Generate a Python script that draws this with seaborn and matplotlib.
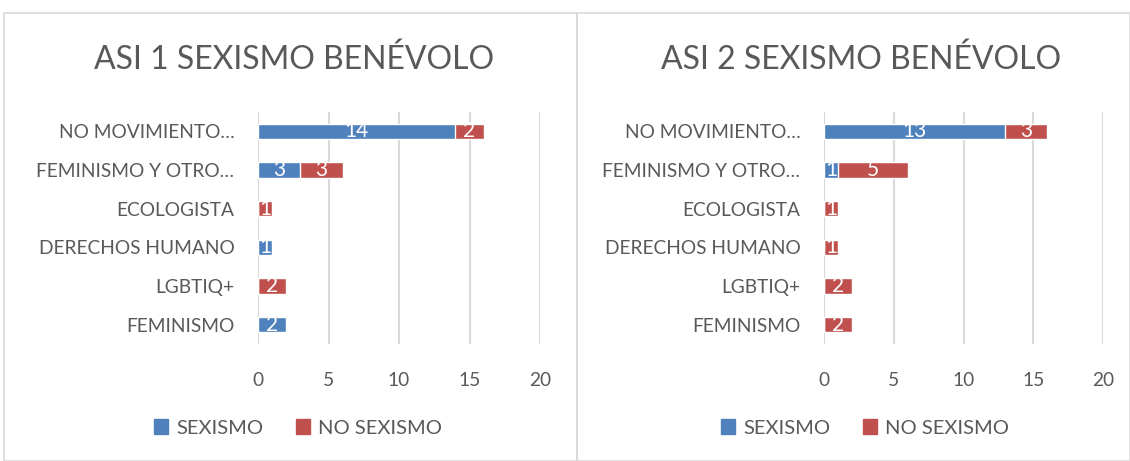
import matplotlib
matplotlib.use("Agg")
import matplotlib.pyplot as plt
import seaborn as sns
from matplotlib.patches import Rectangle

categories = ["NO MOVIMIENTO…", "FEMINISMO Y OTRO…", "ECOLOGISTA",
              "DERECHOS HUMANO", "LGBTIQ+", "FEMINISMO"]
asi1_sexismo = [14, 3, 0, 1, 0, 2]
asi1_no_sexismo = [2, 3, 1, 0, 2, 0]
asi2_sexismo = [13, 1, 0, 0, 0, 0]
asi2_no_sexismo = [3, 5, 1, 1, 2, 2]
titles = ["ASI 1 SEXISMO BENÉVOLO", "ASI 2 SEXISMO BENÉVOLO"]
xticks = [0, 5, 10, 15, 20]

BLUE = "#4F81BD"
RED = "#C0504D"
GRAY = "#595959"
GRID = "#D9D9D9"

sns.set_style("white")
plt.rcParams['font.family'] = ['Lato', 'DejaVu Sans']

W, H = 1130, 461
fig = plt.figure(figsize=(W / 100, H / 100), dpi=100)

# panel frames
for x0, x1 in [(4, 577), (577, 1130)]:
    fig.patches.append(Rectangle((x0 / W, 0), (x1 - x0) / W, (H - 13) / H,
                                 transform=fig.transFigure, fill=False,
                                 edgecolor=GRID, linewidth=1.2))

panels = [
    (258, 540, 298, 294, asi1_sexismo, asi1_no_sexismo, titles[0]),
    (824, 1103, 865, 861, asi2_sexismo, asi2_no_sexismo, titles[1]),
]

for left, right, leg_x, title_x, sex, nosex, title in panels:
    top, bottom = 112, 344
    ax = fig.add_axes([left / W, (H - bottom) / H, (right - left) / W, (bottom - top) / H])
    total = [a + b for a, b in zip(sex, nosex)]
    sns.barplot(x=total, y=categories, color=RED, width=0.4, ax=ax,
                saturation=1, orient="h")
    sns.barplot(x=sex, y=categories, color=BLUE, width=0.4, ax=ax,
                saturation=1, orient="h")
    for i, (a, b) in enumerate(zip(sex, nosex)):
        if a > 0:
            ax.text(a / 2, i, str(a), ha="center", va="center", color="white", fontsize=15)
        if b > 0:
            ax.text(a + b / 2, i, str(b), ha="center", va="center", color="white", fontsize=15)
    ax.set_xlim(0, 20)
    ax.set_ylim(5.5, -0.5)
    ax.set_xticks(xticks)
    ax.set_xticklabels([str(t) for t in xticks])
    ax.grid(axis="x", color=GRID, linewidth=1.5)
    ax.set_axisbelow(True)
    ax.axvline(0, color=GRID, linewidth=1.5, zorder=0)
    for s in ax.spines.values():
        s.set_visible(False)
    ax.tick_params(axis="both", length=0, colors=GRAY, labelsize=13.8)
    ax.tick_params(axis="y", pad=17)
    ax.tick_params(axis="x", pad=20)
    ax.set_xlabel("")
    ax.set_ylabel("")
    fig.text(title_x / W, (H - 60) / H, title, ha="center", va="center",
             fontsize=23, color=GRAY)
    # legend
    ax.legend(handles=[Rectangle((0, 0), 1, 1, color=BLUE), Rectangle((0, 0), 1, 1, color=RED)],
              labels=["SEXISMO", "NO SEXISMO"], loc="center",
              bbox_to_anchor=(leg_x / W, (H - 428) / H),
              bbox_transform=fig.transFigure, ncol=2, frameon=False,
              handlelength=0.7, handleheight=0.7, handletextpad=0.4,
              columnspacing=1.6, prop={"size": 14.5}, labelcolor=GRAY)

fig.savefig("out.png", dpi=100)
